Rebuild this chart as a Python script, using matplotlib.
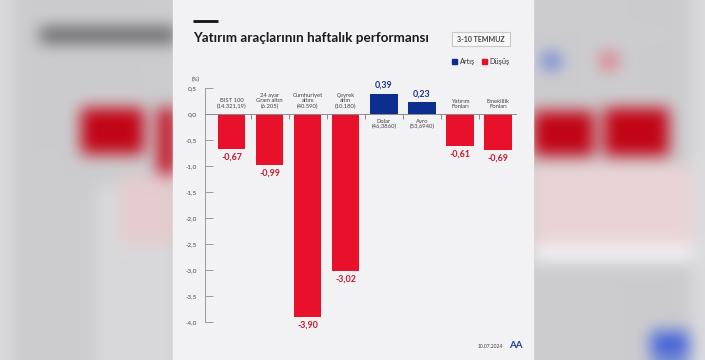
import numpy as np
import matplotlib.pyplot as plt
from matplotlib.patches import Rectangle

# data
categories = ["BIST 100\n(14.321,19)", "24 ayar\nGram altın\n(6.205)", "Cumhuriyet\naltını\n(40.590)",
              "Çeyrek\naltın\n(10.180)", "Dolar\n(46,3860)", "Avro\n(53,6940)",
              "Yatırım\nFonları", "Emeklilik\nFonları"]
values = [-0.67, -0.99, -3.90, -3.02, 0.39, 0.23, -0.61, -0.69]
yticks = [0.5, 0.0, -0.5, -1.0, -1.5, -2.0, -2.5, -3.0, -3.5, -4.0]

RED = "#e8102a"
BLUE = "#0c2e8e"
RED_TXT = "#c8182f"
BLUE_TXT = "#17358c"
PANEL = "#f2f2f4"
W, H = 705, 360

plt.rcParams['font.family'] = ['Lato', 'DejaVu Sans']


def box_blur(a, r):
    for ax_ in (0, 1):
        pad = [(0, 0)] * 3
        pad[ax_] = (r + 1, r)
        p = np.pad(a, pad, mode='edge')
        c = np.cumsum(p, axis=ax_)
        n = a.shape[ax_]
        hi = np.take(c, np.arange(2 * r + 1, 2 * r + 1 + n), axis=ax_)
        lo = np.take(c, np.arange(0, n), axis=ax_)
        a = (hi - lo) / (2 * r + 1)
    return a


# blurred backdrop (zoomed copy of the graphic)
bg = np.ones((H, W, 3)) * np.array([0.80, 0.80, 0.81])
bg[:, :12] = [0.86, 0.86, 0.87]
bg[185:, 95:175] = [0.85, 0.85, 0.86]
bg[175:245, 120:175] = [0.90, 0.80, 0.81]
bg[165:245, 533:] = [0.92, 0.83, 0.84]
bg[245:262, 533:] = [0.95, 0.95, 0.96]
bg[:, 692:] = [0.86, 0.86, 0.87]
bg[27:43, 40:176] = [0.40, 0.40, 0.41]
bg[108:154, 81:144] = [0.76, 0.02, 0.09]
bg[108:174, 158:175] = [0.76, 0.02, 0.09]
bg[111:156, 533:594] = [0.76, 0.02, 0.09]
bg[108:156, 604:669] = [0.76, 0.02, 0.09]
bg[54:68, 543:560] = [0.35, 0.45, 0.85]
bg[54:68, 601:617] = [0.90, 0.40, 0.46]
bg[331:359, 651:689] = [0.28, 0.40, 0.85]
for r in (7, 7, 7):
    bg = box_blur(bg, r)

fig = plt.figure(figsize=(W / 100, H / 100), dpi=100)
bax = fig.add_axes([0, 0, 1, 1])
bax.imshow(np.clip(bg, 0, 1), extent=(0, W, H, 0), aspect='auto', interpolation='bilinear')
bax.set_xlim(0, W)
bax.set_ylim(H, 0)
bax.axis('off')

# white panel
bax.add_patch(Rectangle((173, 0), 360, H, color=PANEL, zorder=2))
bax.plot([193, 218], [20.5, 20.5], color="#111111", lw=2, zorder=3, solid_capstyle='butt')
bax.text(193, 38, "Yatırım araçlarının haftalık performansı", fontsize=9.7, fontweight='bold',
         color="#1b1b1b", va='center', ha='left', zorder=3)
bax.add_patch(Rectangle((452, 32), 58, 14, facecolor="#f7f7f8", edgecolor="#c9c9cc", lw=0.8, zorder=3))
bax.text(481, 39.5, "3-10 TEMMUZ", fontsize=5, fontweight='bold', color="#444444",
         ha='center', va='center', zorder=4)

# legend
bax.add_patch(Rectangle((452, 59), 5, 5, color=BLUE, zorder=3))
bax.text(459.5, 61.8, "Artış", fontsize=5.3, color="#333333", va='center', zorder=3)
bax.add_patch(Rectangle((482, 59), 5, 5, color=RED, zorder=3))
bax.text(489.5, 61.8, "Düşüş", fontsize=5.3, color="#333333", va='center', zorder=3)

bax.text(192, 79, "(%)", fontsize=4.3, color="#444444", va='center', zorder=3)
bax.text(503, 347, "10.07.2024", fontsize=3.6, color="#444444", ha='right', va='center', zorder=3)
bax.text(515.5, 346, "AA", fontsize=7, fontweight='bold', color="#1d3f9a", ha='center', va='center', zorder=3)

# chart
ax = fig.add_axes([205 / W, 1 - (114 + 4.3 * 52) / H, 312 / W, 5.0 * 52 / H])
ax.set_facecolor('none')
ax.set_zorder(5)
x = np.arange(len(values))
colors = [BLUE if v > 0 else RED for v in values]
ax.bar(x, values, width=0.72, color=colors, zorder=2)
ax.axhline(0, color="#8a8a8a", lw=0.7, zorder=3)
ax.vlines(x + 0.5, -0.1, 0, color="#8a8a8a", lw=0.7, zorder=3)

for xi, v, lab in zip(x, values, categories):
    txt = f"{v:.2f}".replace('.', ',')
    if v < 0:
        ax.text(xi, v - 0.07, txt, ha='center', va='top', fontsize=6.4, fontweight='bold', color=RED_TXT)
        ax.text(xi, 0.1, lab, ha='center', va='bottom', fontsize=4.2, color="#444444", linespacing=1.0)
    else:
        ax.text(xi, v + 0.07, txt, ha='center', va='bottom', fontsize=6.4, fontweight='bold', color=BLUE_TXT)
        ax.text(xi, -0.1, lab, ha='center', va='top', fontsize=4.2, color="#444444", linespacing=1.0)

ax.set_xlim(-0.7, 7.5)
ax.set_ylim(-4.3, 0.7)
ax.set_xticks([])
ax.set_yticks(yticks)
ax.set_yticklabels([f"{t:.1f}".replace('.', ',') for t in yticks], fontsize=4.6, color="#444444")
ax.tick_params(axis='y', direction='in', length=5.5, width=0.7, color="#9a9a9a", pad=6)
for s in ('top', 'right', 'bottom'):
    ax.spines[s].set_visible(False)
ax.spines['left'].set_bounds(-4.0, 0.5)
ax.spines['left'].set_color("#9a9a9a")
ax.spines['left'].set_linewidth(0.7)

fig.savefig("out.png", dpi=100)
